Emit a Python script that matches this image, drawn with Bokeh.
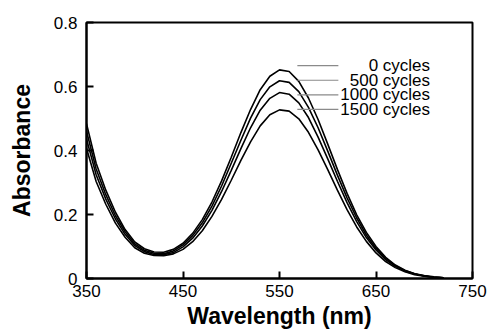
from bokeh.plotting import figure
from bokeh.models import Range1d, FixedTicker, ColumnDataSource
from bokeh.core.properties import value
from bokeh.embed import file_html
from bokeh.resources import INLINE

# ---- data ----
wavelength = [350, 360, 370, 380, 390, 400, 410, 420, 430, 440, 450, 460, 470, 480, 490,
              500, 510, 520, 530, 540, 550, 560, 570, 580, 590, 600, 610, 620, 630, 640,
              650, 660, 670, 680, 690, 700, 710, 720]

abs_0 = [0.484, 0.360, 0.276, 0.207, 0.153, 0.114, 0.093, 0.083, 0.082, 0.091, 0.110, 0.141,
         0.184, 0.239, 0.305, 0.379, 0.456, 0.528, 0.590, 0.632, 0.652, 0.647, 0.616, 0.564,
         0.497, 0.420, 0.341, 0.266, 0.199, 0.144, 0.100, 0.066, 0.042, 0.026, 0.015, 0.009,
         0.005, 0.002]
abs_500 = [0.460, 0.342, 0.262, 0.196, 0.146, 0.108, 0.088, 0.079, 0.077, 0.086, 0.105, 0.134,
           0.174, 0.226, 0.289, 0.360, 0.432, 0.501, 0.559, 0.599, 0.618, 0.613, 0.584, 0.535,
           0.471, 0.398, 0.323, 0.252, 0.189, 0.136, 0.094, 0.063, 0.040, 0.025, 0.015, 0.008,
           0.004, 0.002]
abs_1000 = [0.436, 0.324, 0.248, 0.186, 0.138, 0.103, 0.084, 0.075, 0.074, 0.081, 0.099, 0.126,
            0.164, 0.213, 0.272, 0.338, 0.406, 0.471, 0.526, 0.563, 0.581, 0.576, 0.549, 0.503,
            0.442, 0.374, 0.304, 0.237, 0.178, 0.128, 0.089, 0.059, 0.038, 0.023, 0.014, 0.008,
            0.004, 0.002]
abs_1500 = [0.407, 0.303, 0.232, 0.173, 0.129, 0.096, 0.079, 0.072, 0.071, 0.077, 0.091, 0.115,
            0.149, 0.194, 0.247, 0.307, 0.369, 0.427, 0.477, 0.512, 0.527, 0.523, 0.499, 0.457,
            0.402, 0.340, 0.276, 0.215, 0.161, 0.116, 0.080, 0.053, 0.034, 0.021, 0.012, 0.007,
            0.004, 0.002]

series_labels = ["0 cycles", "500 cycles", "1000 cycles", "1500 cycles"]
x_ticks = [350, 450, 550, 650, 750]
y_ticks = [0, 0.2, 0.4, 0.6, 0.8]
y_tick_labels = ["0", "0.2", "0.4", "0.6", "0.8"]

# ---- figure ----
p = figure(width=492, height=333, output_backend="svg", toolbar_location=None,
           x_range=Range1d(350, 750), y_range=Range1d(0, 0.8),
           min_border_left=86, min_border_right=20, min_border_top=22, min_border_bottom=55)
p.background_fill_color = "white"
p.border_fill_color = "white"
p.outline_line_color = "black"
p.outline_line_width = 2
p.grid.visible = False

FONT = "Liberation Sans"

for ax in (p.xaxis[0], p.yaxis[0]):
    ax.axis_line_width = 2
    ax.axis_line_color = "black"
    ax.major_tick_in = 7
    ax.major_tick_out = 0
    ax.major_tick_line_width = 2
    ax.minor_tick_in = 0
    ax.minor_tick_out = 0
    ax.major_label_text_font = FONT
    ax.major_label_text_font_size = "17px"
    ax.major_label_text_color = "black"
    ax.axis_label_text_font = FONT
    ax.axis_label_text_font_size = "23px"
    ax.axis_label_text_font_style = "bold"
    ax.axis_label_text_color = "black"

p.xaxis.ticker = FixedTicker(ticks=x_ticks)
p.yaxis.ticker = FixedTicker(ticks=y_ticks)
p.yaxis.major_label_overrides = {t: s for t, s in zip(y_ticks, y_tick_labels)}
p.xaxis.major_label_overrides = {t: str(t) for t in x_ticks}
p.xaxis.axis_label = "Wavelength (nm)"
p.yaxis.axis_label = "Absorbance"
p.xaxis.major_label_standoff = 6
p.yaxis.major_label_standoff = 9
p.xaxis.axis_label_standoff = 3
p.yaxis.axis_label_standoff = 16

# ---- curves ----
for ys in (abs_0, abs_500, abs_1000, abs_1500):
    p.line(wavelength, ys, line_color="black", line_width=1.6)

# ---- labels with leader lines ----
label_top = 0.665
label_step = 0.0455
lead_x0, lead_x1 = 568.5, 611
text_x = 706
label_y = [label_top - i * label_step for i in range(len(series_labels))]
p.segment(x0=[lead_x0] * 4, x1=[lead_x1] * 4, y0=label_y, y1=label_y,
          line_color="#8a8a8a", line_width=1.2)
src = ColumnDataSource(dict(x=[text_x] * 4, y=label_y, t=series_labels))
p.text(x="x", y="y", text="t", source=src, text_align="right", text_baseline="middle",
       text_font=value(FONT), text_font_size="17px", text_color="black")

open("out.html", "w").write(file_html(p, INLINE))
